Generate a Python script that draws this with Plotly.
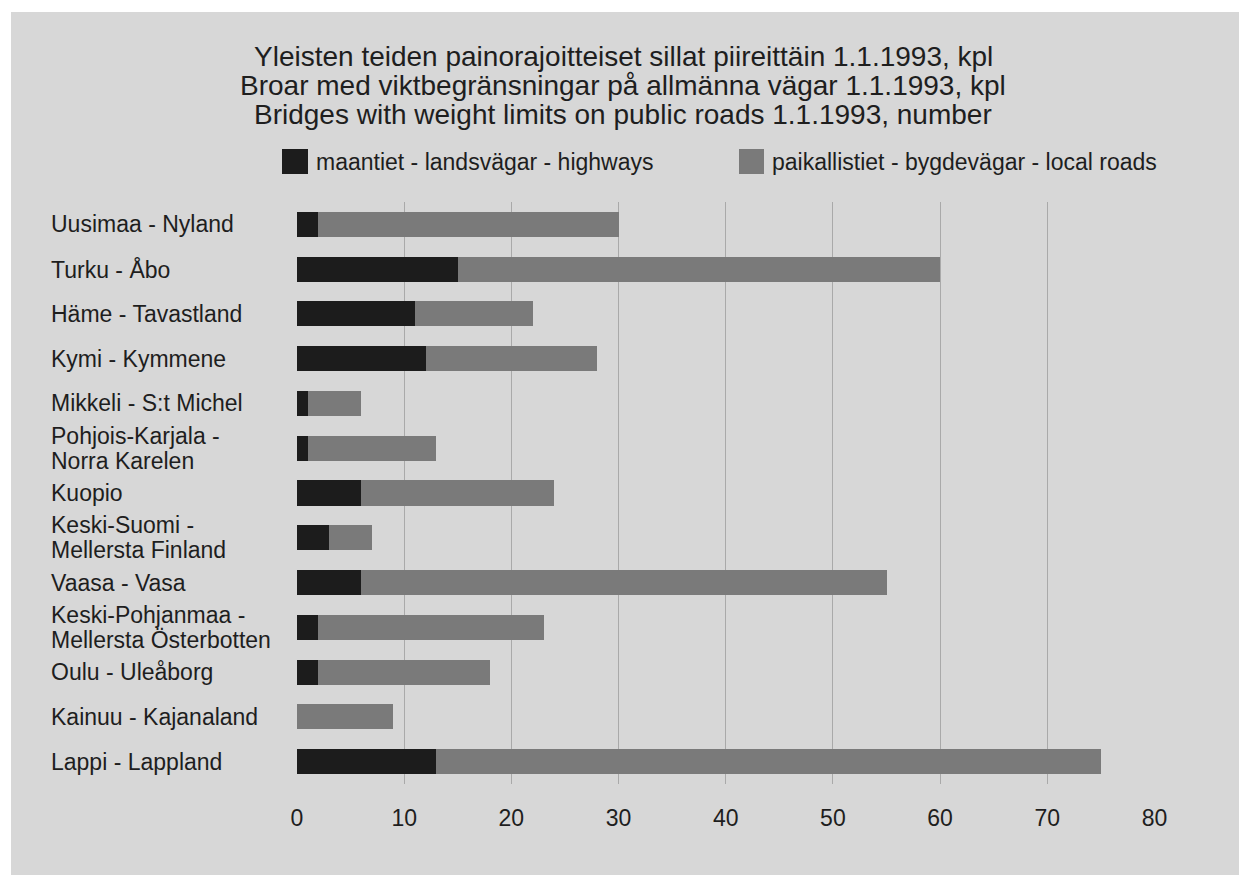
import plotly.graph_objects as go

# ---- data ----
districts = [
    "Uusimaa - Nyland",
    "Turku - Åbo",
    "Häme - Tavastland",
    "Kymi - Kymmene",
    "Mikkeli - S:t Michel",
    "Pohjois-Karjala -<br>Norra Karelen",
    "Kuopio",
    "Keski-Suomi -<br>Mellersta Finland",
    "Vaasa - Vasa",
    "Keski-Pohjanmaa -<br>Mellersta Österbotten",
    "Oulu - Uleåborg",
    "Kainuu - Kajanaland",
    "Lappi - Lappland",
]
highways = [2, 15, 11, 12, 1, 1, 6, 3, 6, 2, 2, 0, 13]
local_roads = [28, 45, 11, 16, 5, 12, 18, 4, 49, 21, 16, 9, 62]
series_names = ["maantiet - landsvägar - highways", "paikallistiet - bygdevägar - local roads"]
title_lines = [
    "Yleisten teiden painorajoitteiset sillat piireittäin 1.1.1993, kpl",
    "Broar med viktbegränsningar på allmänna vägar 1.1.1993, kpl",
    "Bridges with weight limits on public roads 1.1.1993, number",
]
x_ticks = [0, 10, 20, 30, 40, 50, 60, 70, 80]

# ---- layout geometry (screenshot pixels; page body adds an 8px offset) ----
W, H = 1247, 875
OFF = 8
PLOT_L, PLOT_R, PLOT_T, PLOT_B = 297, 1155, 202, 784   # in screenshot pixels
L = PLOT_L - OFF
T = PLOT_T - OFF
R = W - (PLOT_R - OFF)
B = H - (PLOT_B - OFF)
PW, PH = PLOT_R - PLOT_L, PLOT_B - PLOT_T


def px_x(px):
    return (px - PLOT_L) / PW


def px_y(py):
    return (PLOT_B - py) / PH


FONT = "Liberation Sans, Arial, Helvetica, sans-serif"
TXT = "#1e1e1e"
DARK = "#1c1c1c"
MID = "#7a7a7a"
BG = "#d7d7d7"

idx = list(range(len(districts)))

fig = go.Figure()
fig.add_trace(go.Bar(y=idx, x=highways, orientation="h", name=series_names[0],
                     marker=dict(color=DARK, line=dict(width=0))))
fig.add_trace(go.Bar(y=idx, x=local_roads, orientation="h", name=series_names[1],
                     marker=dict(color=MID, line=dict(width=0))))

shapes = [
    dict(type="rect", xref="paper", yref="paper", layer="below",
         x0=px_x(11), x1=px_x(1240), y0=px_y(900), y1=px_y(12),
         fillcolor=BG, line=dict(width=0)),
    # legend keys
    dict(type="rect", xref="paper", yref="paper",
         x0=px_x(282), x1=px_x(308), y0=px_y(174), y1=px_y(149),
         fillcolor=DARK, line=dict(width=0)),
    dict(type="rect", xref="paper", yref="paper",
         x0=px_x(739), x1=px_x(764), y0=px_y(174), y1=px_y(149),
         fillcolor=MID, line=dict(width=0)),
]

annotations = []
# title lines
for i, (line, py) in enumerate(zip(title_lines, [56, 85, 114])):
    annotations.append(dict(text=line, xref="paper", yref="paper", x=px_x(623), y=px_y(py),
                            xanchor="center", yanchor="middle", showarrow=False,
                            font=dict(family=FONT, size=28, color=TXT)))
# legend texts
for name, px in zip(series_names, [314, 770]):
    annotations.append(dict(text=name, xref="paper", yref="paper", x=px_x(px), y=px_y(162),
                            xanchor="left", yanchor="middle", showarrow=False,
                            font=dict(family=FONT, size=23, color=TXT)))
# category labels (left aligned)
for i, lab in enumerate(districts):
    parts = lab.split("<br>")
    n = len(parts)
    for j, p in enumerate(parts):
        annotations.append(dict(text=p, xref="paper", yref="y", x=px_x(49), y=i,
                                xanchor="left", yanchor="middle", showarrow=False,
                                yshift=((n - 1) / 2 - j) * 25,
                                font=dict(family=FONT, size=23, color=TXT)))

fig.update_layout(
    width=W, height=H,
    margin=dict(l=L, r=R, t=T, b=B),
    paper_bgcolor="white",
    plot_bgcolor="rgba(0,0,0,0)",
    barmode="stack",
    bargap=0.44,
    showlegend=False,
    shapes=shapes,
    annotations=annotations,
    xaxis=dict(range=[0, 80.05], tickvals=x_ticks, ticktext=[str(v) for v in x_ticks],
               showgrid=True, gridcolor="#a9a9a9", gridwidth=1, zeroline=False,
               showline=False, ticks="", ticklabelstandoff=18,
               tickfont=dict(family=FONT, size=23, color=TXT)),
    yaxis=dict(range=[len(districts) - 0.5, -0.5], showticklabels=False,
               showgrid=False, zeroline=False, showline=False, ticks=""),
)

fig.write_html("out.html")
